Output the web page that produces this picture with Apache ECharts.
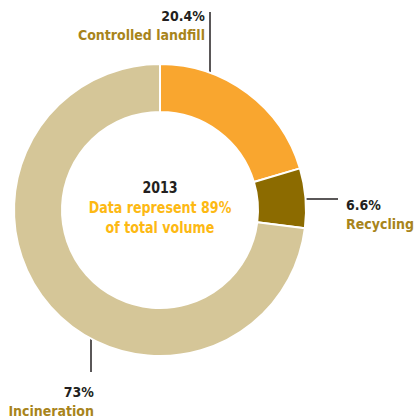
<!DOCTYPE html>
<html>
<head>
<meta charset="utf-8">
<script src="https://cdn.jsdelivr.net/npm/echarts@6/dist/echarts.min.js"></script>
<style>
  html, body { margin: 0; padding: 0; background: #fff; }
  #chart { width: 418px; height: 417px; }
</style>
</head>
<body>
<div id="chart"></div>
<script>
// Daten
var categories = ['Controlled landfill', 'Recycling', 'Incineration'];
var shares = [20.4, 6.6, 73];
var shareLabels = ['20.4%', '6.6%', '73%'];
var sliceColors = ['#f9a62f', '#8c6b00', '#d5c698'];
var centerLines = ['2013', 'Data represent 89%', 'of total volume'];

var FONT = '"DejaVu Sans Condensed", "Liberation Sans", sans-serif';
var cx = 160, cy = 210;

// Position der Beschriftungen und Linien (relativ zur Mitte)
var labelSpots = [
  { x: cx + 45, y: cy - 204, align: 'right', line: [[cx + 50, cy - 119], [cx + 50, cy - 160], [cx + 50, cy - 198]] },
  { x: cx + 186, y: cy - 15, align: 'left', line: [[cx + 133, cy - 11], [cx + 160, cy - 11], [cx + 178, cy - 11]] },
  { x: cx - 66, y: cy + 172, align: 'right', line: [[cx - 69, cy + 98], [cx - 69, cy + 130], [cx - 69, cy + 162]] }
];

var chart = echarts.init(document.getElementById('chart'), null, { renderer: 'svg' });

chart.setOption({
  animation: false,
  series: [{
    type: 'pie',
    center: [cx, cy],
    radius: [98, 146],
    startAngle: 90,
    clockwise: true,
    silent: true,
    avoidLabelOverlap: false,
    itemStyle: { borderColor: '#fff', borderWidth: 2 },
    label: {
      show: true,
      overflow: 'none',
      fontFamily: FONT,
      formatter: function (p) {
        return '{p|' + shareLabels[p.dataIndex] + '}\n{n|' + p.name + '}';
      },
      rich: {
        p: { fontFamily: FONT, fontSize: 14, fontWeight: 'bold', color: '#231f20', lineHeight: 19 },
        n: { fontFamily: FONT, fontSize: 14, fontWeight: 'bold', color: '#a8841b', lineHeight: 19 }
      }
    },
    labelLine: { show: true, lineStyle: { color: '#231f20', width: 1.5 } },
    labelLayout: function (params) {
      var s = labelSpots[params.dataIndex];
      return {
        x: s.x,
        y: s.y,
        align: s.align,
        verticalAlign: 'top',
        hideOverlap: false,
        labelLinePoints: s.line
      };
    },
    data: categories.map(function (c, i) {
      return { name: c, value: shares[i], itemStyle: { color: sliceColors[i] } };
    })
  }],
  graphic: [{
    type: 'text',
    x: cx,
    y: cy - 32,
    scaleX: 0.88,
    style: {
      text: '{a|' + centerLines[0] + '}\n{b|' + centerLines[1] + '}\n{b|' + centerLines[2] + '}',
      align: 'center',
      verticalAlign: 'top',
      rich: {
        a: { fontFamily: FONT, fontSize: 16, fontWeight: 'bold', fill: '#231f20', lineHeight: 20, align: 'center' },
        b: { fontFamily: FONT, fontSize: 16, fontWeight: 'bold', fill: '#fdb913', lineHeight: 20, align: 'center' }
      }
    }
  }]
});
</script>
</body>
</html>
